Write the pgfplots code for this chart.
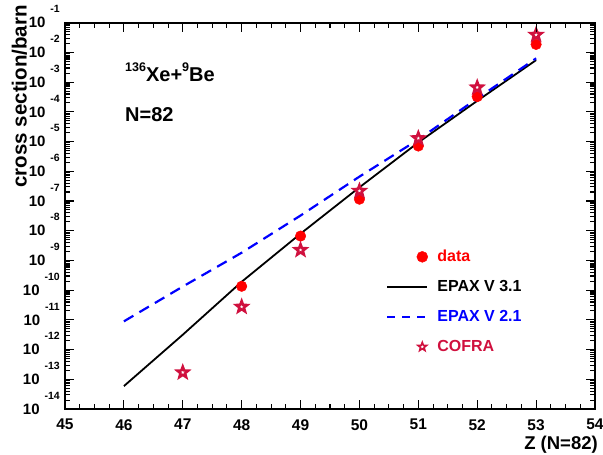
\documentclass[border=0pt]{standalone}
\usepackage{fontspec}
\setmainfont{Liberation Sans}
\usepackage{pgfplots}
\pgfplotsset{compat=1.18}

\definecolor{cofra}{RGB}{208,16,62}

% open five-pointed star
\pgfdeclareplotmark{ostar}{%
  \pgfpathmoveto{\pgfpointpolar{90}{\pgfplotmarksize}}%
  \pgfpathlineto{\pgfpointpolar{126}{0.42\pgfplotmarksize}}%
  \pgfpathlineto{\pgfpointpolar{162}{\pgfplotmarksize}}%
  \pgfpathlineto{\pgfpointpolar{198}{0.42\pgfplotmarksize}}%
  \pgfpathlineto{\pgfpointpolar{234}{\pgfplotmarksize}}%
  \pgfpathlineto{\pgfpointpolar{270}{0.42\pgfplotmarksize}}%
  \pgfpathlineto{\pgfpointpolar{306}{\pgfplotmarksize}}%
  \pgfpathlineto{\pgfpointpolar{342}{0.42\pgfplotmarksize}}%
  \pgfpathlineto{\pgfpointpolar{18}{\pgfplotmarksize}}%
  \pgfpathlineto{\pgfpointpolar{54}{0.42\pgfplotmarksize}}%
  \pgfpathclose
  \pgfusepathqfillstroke}

% decade label: 10 with exponent set high
\newcommand{\dec}[1]{\fontsize{15}{15}\selectfont\bfseries 10\hspace{5pt}\raisebox{15pt}[0pt][0pt]{\fontsize{10.5}{10.5}\selectfont #1}}

\begin{document}
\begin{tikzpicture}
\begin{axis}[
  at={(0,0)}, anchor=south west,
  scale only axis, width=530pt, height=386.3pt,
  xmin=45, xmax=54,
  ymode=log, ymin=1e-14, ymax=1e-1,
  xtick={45,...,54},
  xticklabels={45,46,47,48,49,50,51,52,53,54},
  ytick={1e-14,1e-13,1e-12,1e-11,1e-10,1e-9,1e-8,1e-7,1e-6,1e-5,1e-4,1e-3,1e-2,1e-1},
  yticklabels={\dec{-14},\dec{-13},\dec{-12},\dec{-11},\dec{-10},\dec{-9},\dec{-8},\dec{-7},\dec{-6},\dec{-5},\dec{-4},\dec{-3},\dec{-2},\dec{-1}},
  xtick align=inside, ytick align=inside,
  major tick length=0pt, minor tick length=0pt,
  xticklabel style={inner sep=0pt, anchor=north, yshift=-10pt, font=\fontsize{15.5}{15.5}\selectfont\bfseries},
  yticklabel style={inner sep=0pt, anchor=east, xshift=-5pt},
  legend cell align=left,
  legend style={at={(rel axis cs:0.600,0.419)}, anchor=north west, draw=none, fill=none,
    font=\fontsize{16}{16}\selectfont\bfseries, column sep=9pt, row sep=15pt,
    nodes={inner sep=0pt, text height=12pt, text depth=3pt}},
]
\addlegendimage{legend image code/.code={\fill[red] (35pt,0pt) circle (5.5pt);}}
\addlegendentry{\textcolor{red}{data}}
\addlegendimage{legend image code/.code={\draw[black, line width=1.8pt] (0pt,0pt) -- (40pt,0pt);}}
\addlegendentry{EPAX V 3.1}
\addlegendimage{legend image code/.code={\draw[blue, line width=2.2pt, dash pattern=on 8pt off 7pt] (0pt,0pt) -- (40pt,0pt);}}
\addlegendentry{\textcolor{blue}{EPAX V 2.1}}
\addlegendimage{legend image code/.code={\draw[cofra, fill=white, line width=1.6pt, mark size=4.5pt] plot[mark=ostar] coordinates {(35pt,0pt)};}}
\addlegendentry{\textcolor{cofra}{COFRA}}

% EPAX V 3.1
\addplot[forget plot, black, line width=1.8pt] coordinates {
  (46,5.89e-14) (47,3.16e-12) (48,1.91e-10) (49,7.94e-9)
  (50,2.88e-7) (51,9.33e-6) (52,2.34e-4) (53,5.50e-3)};
% EPAX V 2.1
\addplot[forget plot, blue, line width=2.2pt, dash pattern=on 11pt off 7pt] coordinates {
  (46,8.91e-12) (47,1.32e-10) (48,1.82e-9) (49,3.24e-8)
  (50,6.61e-7) (51,1.17e-5) (52,2.82e-4) (53,6.31e-3)};
% measured cross sections
\addplot[forget plot, only marks, mark=*, mark size=5.3pt, red, mark options={fill=red, draw=red}] coordinates {
  (48,1.35e-10) (49,6.61e-9) (50,1.15e-7) (51,7.08e-6) (52,3.24e-4) (53,1.86e-2)};
% COFRA
\addplot[forget plot, only marks, mark=ostar, mark size=5.8pt, mark options={draw=cofra, fill=white, line width=2.5pt}] coordinates {
  (47,1.70e-13) (48,2.75e-11) (49,2.24e-9) (50,2.19e-7) (51,1.29e-5) (52,6.61e-4) (53,3.89e-2)};
\end{axis}

% inward ticks on all four sides (one unit in Z = 58.889pt, one decade = 29.715pt)
\begin{scope}[line width=1.1pt, black]
  \foreach \i in {0,...,9} {
    \draw (\i*58.889pt,0pt) -- ++(0pt,9pt);
    \draw (\i*58.889pt,386.3pt) -- ++(0pt,-9pt);
  }
  \foreach \i in {1,...,35} {
    \draw (\i*14.7222pt,0pt) -- ++(0pt,5pt);
    \draw (\i*14.7222pt,386.3pt) -- ++(0pt,-5pt);
  }
  \foreach \k in {0,...,13} {
    \draw (0pt,\k*29.715pt) -- ++(9pt,0pt);
    \draw (530pt,\k*29.715pt) -- ++(-9pt,0pt);
  }
  \foreach \k in {0,...,12} {
    \foreach \m in {2,...,9} {
      \pgfmathsetmacro{\yy}{(\k+log10(\m))*29.715}
      \draw (0pt,\yy pt) -- ++(5pt,0pt);
      \draw (530pt,\yy pt) -- ++(-5pt,0pt);
    }
  }
\end{scope}

% heavier frame round the plotting area
\draw[line width=2pt] (0pt,0pt) rectangle (530pt,386.3pt);

% annotations and axis titles
\node[anchor=base west, inner sep=0pt, font=\fontsize{20}{20}\selectfont\bfseries] at (60pt,327pt)
  {\raisebox{10pt}{\fontsize{12.5}{12.5}\selectfont 136}Xe+\raisebox{10pt}{\fontsize{12.5}{12.5}\selectfont 9}Be};
\node[anchor=base west, inner sep=0pt, font=\fontsize{20}{20}\selectfont\bfseries] at (60pt,287pt) {N=82};
\node[anchor=base east, rotate=90, inner sep=0pt, font=\fontsize{20.5}{20.5}\selectfont\bfseries] at (-38.3pt,404pt) {cross section/barn};
\node[anchor=base east, inner sep=0pt, font=\fontsize{18.5}{18.5}\selectfont\bfseries] at (533pt,-40.5pt) {Z (N=82)};

\pgfresetboundingbox
\path (-65pt,-46pt) rectangle (538pt,409pt);
\end{tikzpicture}
\end{document}
